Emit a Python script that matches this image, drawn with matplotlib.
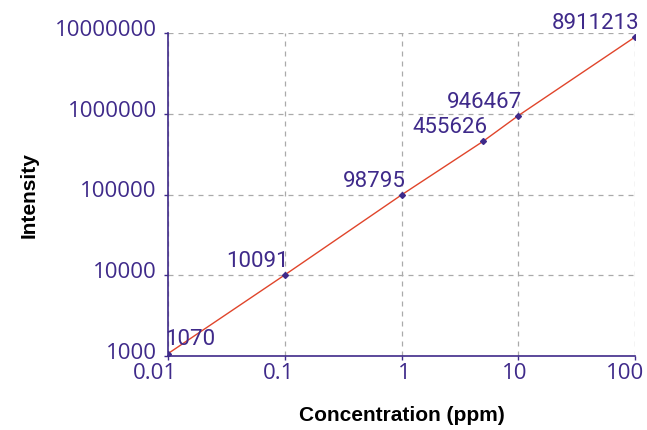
import matplotlib
matplotlib.use("Agg")
import matplotlib.pyplot as plt
import matplotlib.transforms as mtransforms
from matplotlib.ticker import FixedLocator, FixedFormatter, NullLocator

# datos
concentracion = [0.01, 0.1, 1, 5, 10, 100]
intensidad = [1070, 10091, 98795, 455626, 946467, 8911213]
etiquetas = ["1070", "10091", "98795", "455626", "946467", "8911213"]
x_ticks = [0.01, 0.1, 1, 10, 100]
x_tick_labels = ["0.01", "0.1", "1", "10", "100"]
y_ticks = [1000, 10000, 100000, 1000000, 10000000]
y_tick_labels = ["1000", "10000", "100000", "1000000", "10000000"]

morado = "#3f2a8a"
plt.rcParams["font.family"] = ["Open Sans", "DejaVu Sans"]

fig = plt.figure(figsize=(6.47, 4.31), dpi=100)
ax = fig.add_axes([168 / 647, 1 - 357 / 431, (635 - 168) / 647, (357 - 34) / 431])

ax.set_xscale("log")
ax.set_yscale("log")
ax.plot(concentracion, intensidad, color="#e0452b", linewidth=1, zorder=3)
ax.plot(concentracion, intensidad, linestyle="none", marker="D", markersize=3,
        color=morado, zorder=4)

# etiquetas de los puntos
for i, (x, y, txt) in enumerate(zip(concentracion, intensidad, etiquetas)):
    if i == 0:
        ax.annotate(txt, (x, y), xytext=(-2, 3), textcoords="offset points",
                    ha="left", va="bottom", fontsize=16, color=morado,
                    family=["Roboto", "DejaVu Sans"])
    else:
        ax.annotate(txt, (x, y), xytext=(3, 3), textcoords="offset points",
                    ha="right", va="bottom", fontsize=16, color=morado,
                    family=["Roboto", "DejaVu Sans"], annotation_clip=False)

ax.set_xlim(0.01, 100)
ax.set_ylim(1000, 10000000)
ax.xaxis.set_major_locator(FixedLocator(x_ticks))
ax.xaxis.set_major_formatter(FixedFormatter(x_tick_labels))
ax.yaxis.set_major_locator(FixedLocator(y_ticks))
ax.yaxis.set_major_formatter(FixedFormatter(y_tick_labels))
ax.xaxis.set_minor_locator(NullLocator())
ax.yaxis.set_minor_locator(NullLocator())

ax.grid(True, which="major", linestyle=(0, (4, 4)), color="#aaaaaa", linewidth=0.9)
ax.set_axisbelow(True)

for lado in ["top", "right"]:
    ax.spines[lado].set_visible(False)
for lado in ["left", "bottom"]:
    ax.spines[lado].set_color(morado)
    ax.spines[lado].set_linewidth(1.2)

ax.tick_params(axis="both", direction="out", length=3, width=1, color=morado,
               labelcolor=morado, labelsize=16, pad=1)
ax.tick_params(axis="y", pad=5)

# las etiquetas del eje x van algo corridas a la izquierda
desplaza_x = mtransforms.ScaledTranslation(9 / 100, 0, fig.dpi_scale_trans)
for lab in ax.get_xticklabels():
    lab.set_horizontalalignment("right")
    lab.set_transform(lab.get_transform() + desplaza_x)
desplaza_y = mtransforms.ScaledTranslation(0, 6 / 100, fig.dpi_scale_trans)
for lab in ax.get_yticklabels():
    lab.set_transform(lab.get_transform() + desplaza_y)

ax.set_xlabel("Concentration (ppm)", fontsize=15, fontweight="bold",
              family=["Liberation Sans", "DejaVu Sans"], labelpad=16)
ax.set_ylabel("Intensity", fontsize=15, fontweight="bold",
              family=["Liberation Sans", "DejaVu Sans"], labelpad=12)

fig.savefig("out.png", dpi=100)
